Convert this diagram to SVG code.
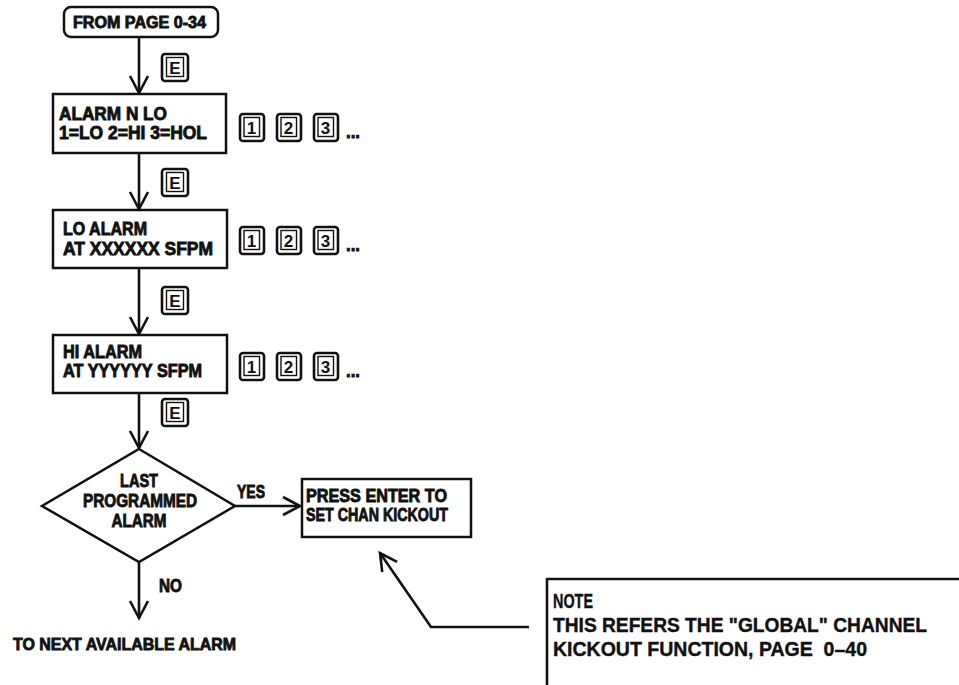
<svg xmlns="http://www.w3.org/2000/svg" width="959" height="685" viewBox="0 0 959 685">
  <style>
    .box { fill: #fff; stroke: #111; stroke-width: 2.5; }
    .ln { fill: none; stroke: #111; stroke-width: 2.6; }
    .t { font-family: "Liberation Sans", Arial, sans-serif; font-weight: bold; fill: #111; stroke: #111; stroke-width: 0.85; }
    .fc { font-size: 18px; }
    .note { font-size: 20px; stroke-width: 0.4; }
    .kout { fill: #fff; stroke: #111; stroke-width: 2.6; }
    .kin { fill: none; stroke: #111; stroke-width: 1.4; }
    .kt { font-family: "Liberation Sans", Arial, sans-serif; font-weight: bold; font-size: 17px; fill: #111; text-anchor: middle; }
  </style>
  <defs>
    <!-- open V arrowhead -->
    <marker id="vhead" markerUnits="userSpaceOnUse" markerWidth="30" markerHeight="30" viewBox="-20 -15 30 30" refX="0" refY="0" orient="auto" overflow="visible">
      <path d="M-17,-9 L0,0 L-17,9" fill="none" stroke="#111" stroke-width="2.6" stroke-linejoin="miter"/>
    </marker>
    <!-- keypad key faces -->
    <g id="key">
      <rect class="kout" x="0" y="0" width="24" height="27" rx="3"/>
      <rect class="kin" x="4" y="3.5" width="15.5" height="19"/>
    </g>
    <g id="keyE">
      <rect class="kout" x="0" y="0" width="26" height="27" rx="3"/>
      <rect class="kin" x="4.5" y="3.5" width="17" height="19"/>
    </g>
  </defs>

  <!-- connectors -->
  <g id="connectors">
    <line class="ln" x1="139" y1="38" x2="139" y2="93" marker-end="url(#vhead)"/>
    <line class="ln" x1="139" y1="153" x2="139" y2="209" marker-end="url(#vhead)"/>
    <line class="ln" x1="139" y1="268" x2="139" y2="334" marker-end="url(#vhead)"/>
    <line class="ln" x1="139" y1="393" x2="139" y2="448" marker-end="url(#vhead)"/>
    <line class="ln" x1="235" y1="506" x2="300" y2="506" marker-end="url(#vhead)"/>
    <line class="ln" x1="139" y1="562" x2="139" y2="618" marker-end="url(#vhead)"/>
    <polyline class="ln" points="529,627 431,627 380,553" marker-end="url(#vhead)"/>
    <text class="t fc" x="237" y="498" textLength="28" lengthAdjust="spacingAndGlyphs">YES</text>
    <text class="t fc" x="159" y="592" textLength="23" lengthAdjust="spacingAndGlyphs">NO</text>
  </g>

  <!-- start terminal -->
  <g id="start">
    <rect class="box" x="64" y="7" width="154" height="30" rx="7"/>
    <text class="t" font-size="16" x="73" y="28" textLength="133" lengthAdjust="spacingAndGlyphs">FROM PAGE 0-34</text>
  </g>

  <!-- enter keys along the main path -->
  <g id="enter-keys">
    <use href="#keyE" x="162" y="54"/><text class="kt" x="175" y="74">E</text>
    <use href="#keyE" x="162" y="169"/><text class="kt" x="175" y="189">E</text>
    <use href="#keyE" x="162" y="287"/><text class="kt" x="175" y="307">E</text>
    <use href="#keyE" x="162" y="399"/><text class="kt" x="175" y="419">E</text>
  </g>

  <!-- alarm type selection -->
  <g id="alarm-type">
    <rect class="box" x="53" y="94" width="173" height="59"/>
    <text class="t fc" x="59" y="120" textLength="108" lengthAdjust="spacingAndGlyphs">ALARM N LO</text>
    <text class="t fc" x="59" y="139" textLength="148" lengthAdjust="spacingAndGlyphs">1=LO 2=HI 3=HOL</text>
    <use href="#key" x="240" y="114"/><text class="kt" x="251.5" y="134">1</text>
    <use href="#key" x="277" y="114"/><text class="kt" x="288.5" y="134">2</text>
    <use href="#key" x="314" y="114"/><text class="kt" x="325.5" y="134">3</text>
    <text class="t fc" x="346" y="138" textLength="14" lengthAdjust="spacingAndGlyphs">...</text>
  </g>

  <!-- low alarm setpoint -->
  <g id="lo-alarm">
    <rect class="box" x="53" y="210" width="174" height="58"/>
    <text class="t fc" x="63" y="235" textLength="84" lengthAdjust="spacingAndGlyphs">LO ALARM</text>
    <text class="t fc" x="63" y="255" textLength="150" lengthAdjust="spacingAndGlyphs">AT XXXXXX SFPM</text>
    <use href="#key" x="240" y="227"/><text class="kt" x="251.5" y="247">1</text>
    <use href="#key" x="277" y="227"/><text class="kt" x="288.5" y="247">2</text>
    <use href="#key" x="314" y="227"/><text class="kt" x="325.5" y="247">3</text>
    <text class="t fc" x="346" y="251" textLength="14" lengthAdjust="spacingAndGlyphs">...</text>
  </g>

  <!-- high alarm setpoint -->
  <g id="hi-alarm">
    <rect class="box" x="53" y="335" width="174" height="58"/>
    <text class="t fc" x="63" y="358" textLength="79" lengthAdjust="spacingAndGlyphs">HI ALARM</text>
    <text class="t fc" x="63" y="377" textLength="139" lengthAdjust="spacingAndGlyphs">AT YYYYYY SFPM</text>
    <use href="#key" x="240" y="353"/><text class="kt" x="251.5" y="373">1</text>
    <use href="#key" x="277" y="353"/><text class="kt" x="288.5" y="373">2</text>
    <use href="#key" x="314" y="353"/><text class="kt" x="325.5" y="373">3</text>
    <text class="t fc" x="346" y="377" textLength="14" lengthAdjust="spacingAndGlyphs">...</text>
  </g>

  <!-- decision -->
  <g id="last-alarm">
    <polygon class="box" points="139,449 235,506 139,562 42,506"/>
    <text class="t fc" x="139" y="487" text-anchor="middle" textLength="38" lengthAdjust="spacingAndGlyphs">LAST</text>
    <text class="t fc" x="140" y="507" text-anchor="middle" textLength="114" lengthAdjust="spacingAndGlyphs">PROGRAMMED</text>
    <text class="t fc" x="139" y="527" text-anchor="middle" textLength="55" lengthAdjust="spacingAndGlyphs">ALARM</text>
  </g>

  <!-- channel kickout prompt -->
  <g id="kickout">
    <rect class="box" x="302" y="479" width="169" height="58"/>
    <text class="t fc" x="306" y="502" textLength="141" lengthAdjust="spacingAndGlyphs">PRESS ENTER TO</text>
    <text class="t fc" x="306" y="521" textLength="142" lengthAdjust="spacingAndGlyphs">SET CHAN KICKOUT</text>
  </g>

  <!-- exit -->
  <g id="next-alarm">
    <text class="t" font-size="17" x="13" y="650" textLength="223" lengthAdjust="spacingAndGlyphs">TO NEXT AVAILABLE ALARM</text>
  </g>

  <!-- note -->
  <g id="note">
    <path class="ln" d="M959,579 H547 V685"/>
    <text class="t note" x="553" y="608" textLength="40" lengthAdjust="spacingAndGlyphs">NOTE</text>
    <text class="t note" x="553" y="632" textLength="374" lengthAdjust="spacingAndGlyphs">THIS REFERS THE "GLOBAL" CHANNEL</text>
    <text class="t note" x="553" y="656" textLength="314" lengthAdjust="spacingAndGlyphs" xml:space="preserve">KICKOUT FUNCTION, PAGE  0–40</text>
  </g>
</svg>
